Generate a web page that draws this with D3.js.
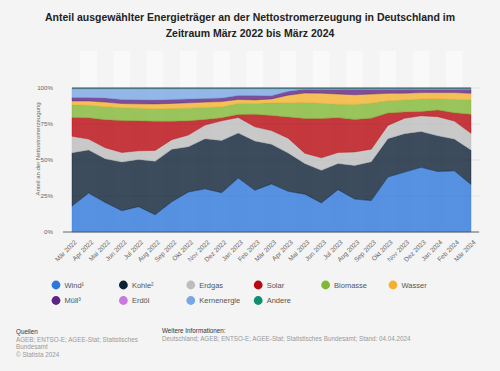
<!DOCTYPE html>
<html lang="de">
<head>
  <meta charset="UTF-8">
  <title>Nettostromerzeugung</title>
  <style>
    body { margin: 0; background: #f4f4f4; }
    text { font-family: "Liberation Sans", Arial, sans-serif; }
  </style>
</head>
<body>
<script src="https://cdn.jsdelivr.net/npm/d3@7"></script>
<script>

  var months = ["Mär 2022", "Apr 2022", "Mai 2022", "Jun 2022", "Jul 2022", "Aug 2022", "Sep 2022",
    "Okt 2022", "Nov 2022", "Dez 2022", "Jan 2023", "Feb 2023", "Mär 2023", "Apr 2023", "Mai 2023",
    "Jun 2023", "Jul 2023", "Aug 2023", "Sep 2023", "Okt 2023", "Nov 2023", "Dez 2023", "Jan 2024",
    "Feb 2024", "Mär 2024"];

  // Anteile in %
  var wind = [18, 27, 20.5, 14.8, 17.6, 12, 21, 27.8, 30, 27.3, 37.5, 29, 33.4, 28.3, 26.3, 20.2, 29.4, 22.9, 21.8, 38.2, 41.6, 44.9, 42, 42.5, 33];
  var kohle = [37, 30, 30.3, 33.8, 32.7, 37.2, 36.5, 31.5, 34.8, 36.3, 31.3, 34.2, 27.6, 26.7, 21.3, 22.6, 18.1, 23.3, 27, 26.6, 26.7, 24.9, 24.8, 22, 24];
  var erdgas = [11.5, 7.5, 7.7, 6.6, 6.1, 7.5, 6.7, 8.1, 9.5, 13.7, 10.8, 9.9, 9.5, 10.3, 7.1, 8.7, 7.7, 9.4, 8.7, 9.2, 10.7, 10.9, 13.3, 12.5, 11.5];
  var solar = [13.1, 14.8, 19.5, 22.2, 20.8, 20.3, 12.8, 9.9, 3.9, 2.1, 2.1, 8.8, 10.5, 14.7, 24.1, 27.3, 24.2, 22.6, 21.5, 8.6, 4.4, 2.9, 4.6, 5.8, 13.2];
  var biomasse = [8.7, 8.7, 9, 8.8, 8.8, 8.7, 8.8, 8.8, 8.4, 7.6, 7.7, 7.5, 8.8, 10, 11.2, 10.6, 9.3, 10.4, 10.4, 8.6, 8.2, 8.8, 7.7, 9.4, 10];
  var wasser = [2.7, 3, 3.2, 3, 3, 3.3, 3.6, 3.7, 3.7, 3.7, 2.7, 2.4, 2.7, 5.2, 6.5, 7, 7.1, 6.7, 6.4, 5.1, 4.8, 4.4, 4.4, 4.6, 4.6];
  var muell = [2.4, 2.4, 2.8, 2.8, 2.8, 2.8, 2.7, 2.6, 2.5, 2.4, 2.8, 3.1, 2.2, 2.8, 2.7, 2.8, 3.4, 3.9, 3.4, 2.9, 2.8, 2.4, 2.4, 2.4, 2.9];
  var erdoel = [0.5, 0.5, 0.5, 0.5, 0.5, 0.5, 0.5, 0.5, 0.5, 0.5, 0.5, 0.5, 0.5, 0.5, 0.5, 0.5, 0.5, 0.5, 0.5, 0.5, 0.5, 0.5, 0.5, 0.5, 0.5];
  var kernenergie = [5.8, 5.8, 6.2, 7.2, 7.4, 7.5, 7.2, 6.9, 6.5, 6.2, 4.4, 4.4, 4.6, 1.4, 0, 0, 0, 0, 0, 0, 0, 0, 0, 0, 0];
  var andere = [0.3, 0.3, 0.3, 0.3, 0.3, 0.3, 0.3, 0.3, 0.3, 0.3, 0.3, 0.3, 0.3, 0.3, 0.3, 0.3, 0.3, 0.3, 0.3, 0.3, 0.3, 0.3, 0.3, 0.3, 0.3];

  var yTicks = [0, 0.25, 0.5, 0.75, 1];

  var series = [
    {key: "Wind¹", values: wind, color: "#2e78dc"},
    {key: "Kohle²", values: kohle, color: "#0d2136"},
    {key: "Erdgas", values: erdgas, color: "#bdbdbd"},
    {key: "Solar", values: solar, color: "#b8090f"},
    {key: "Biomasse", values: biomasse, color: "#82b735"},
    {key: "Wasser", values: wasser, color: "#f3b12e"},
    {key: "Müll³", values: muell, color: "#5e2483"},
    {key: "Erdöl", values: erdoel, color: "#c779de"},
    {key: "Kernenergie", values: kernenergie, color: "#79a7e4"},
    {key: "Andere", values: andere, color: "#0f8e72"}
  ];
  // Reihenfolge im Stapel (von unten nach oben)
  var stackOrder = ["Wind¹", "Kohle²", "Erdgas", "Solar", "Biomasse", "Wasser", "Müll³", "Kernenergie", "Erdöl", "Andere"];

  var w = 500, h = 371;
  var plot = {left: 72, right: 471, top: 88, bottom: 232};

  var rows = months.map(function(m, i) {
    var r = {month: m};
    series.forEach(function(s) { r[s.key] = s.values[i]; });
    return r;
  });

  var color = d3.scaleOrdinal()
          .domain(series.map(function(s) { return s.key; }))
          .range(series.map(function(s) { return s.color; }));

  var stack = d3.stack()
          .keys(stackOrder)
          .offset(d3.stackOffsetExpand);
  var layers = stack(rows);

  var xScale = d3.scalePoint()
          .domain(months)
          .range([plot.left, plot.right]);
  var step = xScale.step();

  var yScale = d3.scaleLinear()
          .domain([0, 1])
          .range([plot.bottom, plot.top]);

  var svg = d3.select("body")
          .append("svg")
          .attr("width", w)
          .attr("height", h);

  svg.append("rect")
          .attr("width", w)
          .attr("height", h)
          .attr("fill", "#f4f4f4");

  // Titel
  var title = svg.append("text")
          .attr("x", 250)
          .attr("y", 21)
          .attr("text-anchor", "middle")
          .attr("font-size", "10.5px")
          .attr("font-weight", "bold")
          .attr("fill", "#222");
  title.append("tspan").attr("x", 250).text("Anteil ausgewählter Energieträger an der Nettostromerzeugung in Deutschland im");
  title.append("tspan").attr("x", 250).attr("dy", 16).text("Zeitraum März 2022 bis März 2024");

  // abwechselnde Spalten
  svg.append("g")
          .selectAll("rect")
          .data(months)
          .enter()
          .append("rect")
          .attr("x", function(d) { return xScale(d) - step / 2; })
          .attr("y", 51)
          .attr("width", step)
          .attr("height", plot.bottom - 51)
          .attr("fill", function(d, i) { return i % 2 ? "#f9f9f9" : "#f4f4f4"; });

  // Gitterlinien
  svg.append("g")
          .selectAll("line")
          .data(yTicks)
          .enter()
          .append("line")
          .attr("x1", plot.left)
          .attr("x2", 480)
          .attr("y1", function(d) { return yScale(d); })
          .attr("y2", function(d) { return yScale(d); })
          .attr("stroke", "#dcdcdc")
          .attr("stroke-width", 0.7);

  var area = d3.area()
          .x(function(d) { return xScale(d.data.month); })
          .y0(function(d) { return yScale(d[0]); })
          .y1(function(d) { return yScale(d[1]); });

  svg.append("g")
          .selectAll("path")
          .data(layers)
          .enter()
          .append("path")
          .attr("d", area)
          .attr("fill", function(d) { return color(d.key); })
          .attr("fill-opacity", 0.8)
          .attr("stroke", function(d) { return color(d.key); })
          .attr("stroke-width", 0.4);

  // obere Kante
  svg.append("line")
          .attr("x1", plot.left)
          .attr("x2", plot.right)
          .attr("y1", yScale(1))
          .attr("y2", yScale(1))
          .attr("stroke", "#4a5668")
          .attr("stroke-width", 0.8);

  // Y-Achse
  var yAxis = d3.axisLeft(yScale)
          .tickValues(yTicks)
          .tickSize(0)
          .tickPadding(19)
          .tickFormat(d3.format(".0%"));
  var gy = svg.append("g")
          .attr("transform", "translate(" + plot.left + ",0)")
          .call(yAxis);
  gy.select(".domain").remove();
  gy.selectAll("text")
          .attr("font-size", "6.2px")
          .attr("font-family", "Liberation Sans, Arial, sans-serif")
          .attr("fill", "#666");

  svg.append("text")
          .attr("transform", "translate(39.5,149) rotate(-90)")
          .attr("text-anchor", "middle")
          .attr("font-size", "6px")
          .attr("fill", "#666")
          .text("Anteil an der Nettostromerzeugung");

  // X-Achse
  var xAxis = d3.axisBottom(xScale)
          .tickSize(0);
  var gx = svg.append("g")
          .attr("transform", "translate(0," + plot.bottom + ")")
          .call(xAxis);
  gx.select(".domain")
          .attr("d", "M" + 63 + ",0H" + 479)
          .attr("stroke", "#555")
          .attr("stroke-width", 0.9);
  gx.selectAll("text")
          .attr("x", 0)
          .attr("y", 0)
          .attr("dy", "0.35em")
          .attr("text-anchor", "end")
          .attr("transform", "translate(3,9) rotate(-45)")
          .attr("font-size", "6.5px")
          .attr("font-family", "Liberation Sans, Arial, sans-serif")
          .attr("fill", "#666");

  // Legende
  var legend = svg.append("g")
          .selectAll("g")
          .data(series)
          .enter()
          .append("g")
          .attr("transform", function(d, i) {
            return "translate(" + (56 + (i % 6) * 67.4) + "," + (285 + Math.floor(i / 6) * 15.5) + ")";
          });
  legend.append("circle")
          .attr("r", 4.4)
          .attr("fill", function(d) { return d.color; });
  legend.append("text")
          .attr("x", 8.5)
          .attr("dy", "0.35em")
          .attr("font-size", "7.5px")
          .attr("fill", "#555")
          .text(function(d) { return d.key; });

  // Quellen
  var src = svg.append("g")
          .attr("font-size", "6.3px");
  src.append("text").attr("x", 16).attr("y", 334).attr("fill", "#333").text("Quellen");
  src.append("text").attr("x", 16).attr("y", 341.5).attr("fill", "#999").text("AGEB; ENTSO-E; AGEE-Stat; Statistisches");
  src.append("text").attr("x", 16).attr("y", 349).attr("fill", "#999").text("Bundesamt");
  src.append("text").attr("x", 16).attr("y", 356.5).attr("fill", "#999").text("© Statista 2024");
  src.append("text").attr("x", 162).attr("y", 332.5).attr("fill", "#333").text("Weitere Informationen:");
  src.append("text").attr("x", 162).attr("y", 340.5).attr("fill", "#999").text("Deutschland; AGEB; ENTSO-E; AGEE-Stat; Statistisches Bundesamt; Stand: 04.04.2024");

</script>
</body>
</html>
